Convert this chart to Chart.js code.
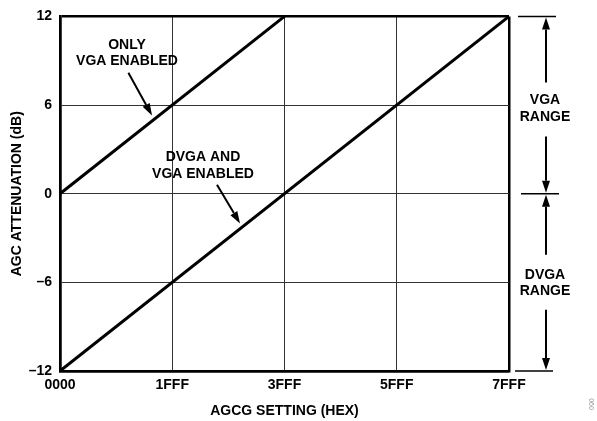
<!DOCTYPE html>
<html>
<head>
<meta charset="utf-8">
<script src="https://cdn.jsdelivr.net/npm/chart.js@4"></script>
<style>
  html, body { margin: 0; padding: 0; background: #fff; }
  #wrap { width: 597px; height: 421px; }
</style>
</head>
<body>
<div id="wrap"><canvas id="chart" width="597" height="421"></canvas></div>
<script>
// AGCG code (hex) on x, attenuation in dB on y
const tickCodes = ["0000", "1FFF", "3FFF", "5FFF", "7FFF"];
const yTicks = [-12, -6, 0, 6, 12];

const vgaOnlyCodes = ["0000", "3FFF"];
const vgaOnlyDb = [0, 12];

const dvgaCodes = ["0000", "7FFF"];
const dvgaDb = [-12, 12];

const FONT = "'Liberation Sans', Arial, sans-serif";
const SIZE = 14;

function toPoints(codes, values) {
    return codes.map((c, i) => ({ x: parseInt(c, 16), y: values[i] }));
}

function fmtDb(v) {
    return v < 0 ? "\u2013" + Math.abs(v) : String(v);
}

function drawArrow(ctx, x1, y1, x2, y2, len, half) {
    const ang = Math.atan2(y2 - y1, x2 - x1);
    const bx = x2 - len * Math.cos(ang);
    const by = y2 - len * Math.sin(ang);
    ctx.beginPath();
    ctx.moveTo(x1, y1);
    ctx.lineTo(bx, by);
    ctx.stroke();
    ctx.beginPath();
    ctx.moveTo(x2, y2);
    ctx.lineTo(bx + half * Math.sin(ang), by - half * Math.cos(ang));
    ctx.lineTo(bx - half * Math.sin(ang), by + half * Math.cos(ang));
    ctx.closePath();
    ctx.fill();
}

// callouts and the VGA / DVGA range markers
const annotations = {
    id: "annotations",
    afterDraw(chart) {
        const { ctx, chartArea: area } = chart;
        const xs = chart.scales.x, ys = chart.scales.y;
        const px = v => xs.getPixelForValue(v);
        const py = v => ys.getPixelForValue(v);

        ctx.save();
        ctx.fillStyle = "#000";
        ctx.strokeStyle = "#000";
        ctx.font = "bold " + SIZE + "px " + FONT;
        ctx.textAlign = "center";
        ctx.textBaseline = "middle";

        // ONLY VGA ENABLED
        ctx.fillText("ONLY", px(4890), py(10.06));
        ctx.fillText("VGA ENABLED", px(4890), py(8.98));
        ctx.lineWidth = 2;
        drawArrow(ctx, px(4990), py(8.18), px(6714), py(5.3), 12, 4);

        // DVGA AND VGA ENABLED
        ctx.fillText("DVGA AND", px(10436), py(2.48));
        ctx.fillText("VGA ENABLED", px(10436), py(1.34));
        drawArrow(ctx, px(11457), py(0.6), px(13136), py(-2.01), 12, 4);

        // range markers on the right
        const cx = area.right + 37;
        ctx.lineWidth = 1.5;
        const hline = (y, x0, x1) => {
            ctx.beginPath();
            ctx.moveTo(x0, y);
            ctx.lineTo(x1, y);
            ctx.stroke();
        };
        const yTop = py(12), yMid = py(0), yBot = py(-12);
        hline(yTop, area.right + 9, area.right + 47);
        hline(yMid, area.right + 12, area.right + 50);
        hline(yBot, area.right + 6, area.right + 44);

        ctx.lineWidth = 2;
        drawArrow(ctx, cx, yTop + 66, cx, yTop + 1, 12, 4);
        drawArrow(ctx, cx, yTop + 120, cx, yMid - 1, 12, 4);
        drawArrow(ctx, cx, yMid + 61, cx, yMid + 1, 12, 4);
        drawArrow(ctx, cx, yMid + 116, cx, yBot - 1, 12, 4);

        ctx.fillText("VGA", cx - 1, yTop + 84);
        ctx.fillText("RANGE", cx - 1, yTop + 101);
        ctx.fillText("DVGA", cx - 1, yMid + 81);
        ctx.fillText("RANGE", cx - 1, yMid + 97);

        // figure number
        ctx.translate(591, 404);
        ctx.rotate(Math.PI / 2);
        ctx.font = "7px " + FONT;
        ctx.fillStyle = "#9a9a9a";
        ctx.fillText("060", 0, 0);
        ctx.restore();
    }
};

const edgeWidth = c => (c.index === 0 || c.index === 4 ? 2.5 : 1);
const edgeColor = c => (c.index === 0 || c.index === 4 ? "#000" : "#333");

new Chart(document.getElementById("chart"), {
    type: "scatter",
    data: {
        datasets: [
            {
                label: "Only VGA enabled",
                data: toPoints(vgaOnlyCodes, vgaOnlyDb),
                showLine: true,
                borderColor: "#000",
                borderWidth: 3,
                pointRadius: 0,
            },
            {
                label: "DVGA and VGA enabled",
                data: toPoints(dvgaCodes, dvgaDb),
                showLine: true,
                borderColor: "#000",
                borderWidth: 3,
                pointRadius: 0,
            },
        ],
    },
    options: {
        responsive: false,
        animation: false,
        events: [],
        layout: { padding: { top: 13, right: 88, left: 0, bottom: 0 } },
        plugins: {
            legend: { display: false },
            tooltip: { enabled: false },
        },
        scales: {
            x: {
                type: "linear",
                min: 0,
                max: parseInt(tickCodes[tickCodes.length - 1], 16),
                afterBuildTicks(scale) {
                    scale.ticks = tickCodes.map(c => ({ value: parseInt(c, 16) }));
                },
                afterFit(scale) {
                    scale.height = 50;
                },
                ticks: {
                    color: "#000",
                    padding: 6,
                    maxRotation: 0,
                    font: { family: FONT, size: SIZE, weight: "bold" },
                    callback: (v, i) => tickCodes[i],
                },
                grid: { color: edgeColor, lineWidth: edgeWidth, drawTicks: false },
                border: { color: "#000", width: 2.5 },
                title: {
                    display: true,
                    text: "AGCG SETTING (HEX)",
                    color: "#000",
                    font: { family: FONT, size: SIZE, weight: "bold" },
                    padding: { top: 0, bottom: 1 },
                },
            },
            y: {
                min: yTicks[0],
                max: yTicks[yTicks.length - 1],
                afterBuildTicks(scale) {
                    scale.ticks = yTicks.map(v => ({ value: v }));
                },
                afterFit(scale) {
                    scale.width = 60;
                },
                ticks: {
                    color: "#000",
                    padding: 8,
                    font: { family: FONT, size: SIZE, weight: "bold" },
                    callback: v => fmtDb(v),
                },
                grid: { color: edgeColor, lineWidth: edgeWidth, drawTicks: false },
                border: { color: "#000", width: 2.5 },
                title: {
                    display: true,
                    text: "AGC ATTENUATION (dB)",
                    color: "#000",
                    font: { family: FONT, size: SIZE, weight: "bold" },
                    padding: { top: 9, bottom: 0 },
                },
            },
        },
    },
    plugins: [annotations],
});
</script>
</body>
</html>
